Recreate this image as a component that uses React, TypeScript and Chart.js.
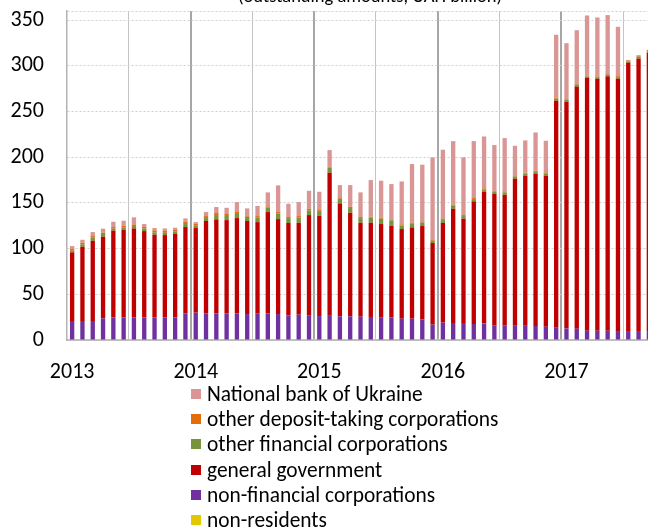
import { useEffect, useRef } from 'react';
import { Chart, registerables } from 'chart.js';

Chart.register(...registerables);

const FONT = 'Carlito, Lato, "Open Sans", sans-serif';

const years = ['2013', '2014', '2015', '2016', '2017'];
const monthsShown = 57; // Jan 2013 .. Sep 2017
const categories: string[] = [];
for (const y of years) {
  for (let m = 1; m <= 12; m++) {
    if (categories.length < monthsShown) categories.push(`${y}-${m < 10 ? '0' + m : m}`);
  }
}

const yTicks = [0, 50, 100, 150, 200, 250, 300, 350];

const nonResidents = [
  0, 0, 0, 0, 0, 0, 0, 0, 0, 0, 0, 0,
  0, 0, 0, 0, 0, 0, 0, 0, 0, 0, 0, 0,
  0, 0, 0, 0, 0, 0, 0, 0, 0, 0, 0, 0,
  0, 0, 0, 0, 0, 0, 0, 0, 0, 0, 0, 0,
  0, 0, 0, 0, 0, 0, 0, 0, 0,
];
const nonFinancialCorps = [
  20.8, 20.8, 20.8, 23.7, 24.8, 24.8, 24.8, 24.8, 24.8, 24.8, 24.8, 29.2,
  29.9, 29.2, 29.2, 29.2, 29.2, 28.4, 28.8, 29.2, 28.4, 27, 27.7, 26.6,
  26.2, 27.3, 25.9, 25.9, 25.5, 25.2, 24.4, 24.8, 23.3, 23.3, 22.6, 16.8,
  19, 18.6, 18.6, 17.5, 18.2, 16, 16, 15.7, 15.7, 15.3, 14.6, 13.5,
  12.8, 12.4, 10.2, 10.2, 10.2, 9.8, 9.8, 9.8, 9.8,
];
const generalGovernment = [
  75.1, 81.2, 87.8, 89.3, 94.8, 95.9, 97.3, 94.4, 90.4, 90, 91.5, 94.4,
  92.6, 101, 102.8, 102, 104.2, 101.8, 100.2, 110.8, 103.9, 101, 100.6, 110.1,
  109.8, 155.7, 123.6, 113.4, 102.8, 103.1, 102.5, 100.2, 98.1, 99.9, 102.1, 89.3,
  109, 125, 114.1, 134.2, 144, 144, 143, 160.7, 164, 166.6, 165.1, 248.3,
  247.9, 264.6, 276.7, 275.6, 278.5, 276, 293.5, 297.9, 304.5,
];
const otherFinancialCorps = [
  1.8, 2.6, 3.7, 3, 2.2, 2.2, 2.6, 2.6, 2.6, 2.5, 2.5, 3.3,
  2.5, 3.2, 4.7, 5.5, 5.5, 4.7, 5.2, 5.1, 5.9, 5.4, 5.9, 5.1,
  5, 5.8, 5.1, 5.1, 5.1, 5.5, 5.8, 5.9, 4, 4, 4, 2.5,
  3.2, 3.3, 2.9, 2.5, 2.6, 2.6, 2.5, 2.6, 2.6, 2.2, 2.6, 2.2,
  2.2, 2.6, 1.5, 1.8, 1.9, 1.8, 1.5, 2.2, 1.4,
];
const otherDepositTaking = [
  2.2, 1.9, 1.4, 1.5, 1.8, 2.1, 1.8, 1.8, 2.2, 2.2, 1.9, 2.5,
  2.2, 2.2, 2.2, 1.8, 1.8, 1.4, 1.4, 1.1, 1.8, 1.1, 1.4, 1.8,
  1.2, 0.8, 1.5, 1.4, 1.1, 1.1, 1.1, 1.1, 1.1, 1.1, 1.1, 1.5,
  1.1, 1.1, 1.1, 1.1, 1.1, 0.7, 1.1, 1.1, 0.7, 1.1, 1.1, 1.1,
  0.7, 1.1, 0.7, 0.7, 1.1, 1.1, 1.1, 0.7, 1.5,
];
const nationalBank = [
  2.9, 3.2, 4.4, 4.3, 5.8, 5.5, 7.7, 3.3, 2.5, 2.6, 2.2, 3.6,
  1.8, 4.4, 6.6, 6.2, 10.2, 7.7, 11, 15.3, 29.2, 14.6, 15.3, 19.7,
  20, 18.2, 13.4, 23.7, 27, 40.1, 40.5, 38.6, 47, 64.2, 62, 89.7,
  75.9, 69.6, 63.1, 62.3, 56.8, 50, 58.3, 32.4, 35.4, 41.9, 34.6, 68.9,
  61.2, 58.3, 66, 64.6, 63.8, 54, 0.6, 1.1, 0.3,
];

const seriesNames = [
  'non-residents',
  'non-financial corporations',
  'general government',
  'other financial corporations',
  'other deposit-taking corporations',
  'National bank of Ukraine',
];
const seriesColors = ['#E3C800', '#7030A0', '#C00000', '#77933C', '#E46C0A', '#D99694'];
const seriesData = [
  nonResidents,
  nonFinancialCorps,
  generalGovernment,
  otherFinancialCorps,
  otherDepositTaking,
  nationalBank,
];

const titleText = '(outstanding amounts, UAH billion)';

export default function App() {
  const ref = useRef<HTMLCanvasElement>(null);

  useEffect(() => {
    if (!ref.current) return;
    const chart = new Chart(ref.current, {
      type: 'bar',
      data: {
        labels: categories,
        datasets: seriesData.map((d, i) => ({
          label: seriesNames[i],
          data: d,
          backgroundColor: seriesColors[i],
          borderWidth: 0,
          barPercentage: 0.42,
          categoryPercentage: 1,
        })),
      },
      options: {
        animation: false,
        responsive: false,
        maintainAspectRatio: false,
        layout: { padding: { left: 9, top: 11, right: 8, bottom: 5 } },
        plugins: {
          legend: { display: false },
          title: { display: false },
          tooltip: { enabled: false },
        },
        scales: {
          x: {
            stacked: true,
            offset: true,
            grid: {
              offset: true,
              drawTicks: false,
              color: (ctx: any) => {
                const i = ctx.index;
                if (typeof i !== 'number' || i === 0) return 'rgba(0,0,0,0)';
                if (i % 12 === 0) return '#a6a6a6';
                if (i % 6 === 0) return '#c4c4c4';
                return 'rgba(0,0,0,0)';
              },
              lineWidth: (ctx: any) => {
                const i = ctx.index;
                if (typeof i === 'number' && i % 12 === 0) return 2;
                return 1;
              },
            },
            border: { display: true, color: '#bfbfbf', width: 2 },
            ticks: {
              autoSkip: false,
              maxRotation: 0,
              minRotation: 0,
              padding: 19,
              color: '#000',
              font: { family: FONT, size: 22 },
              callback: (_v: any, i: number) => {
                const c = categories[i];
                return c && c.endsWith('-01') ? c.slice(0, 4) : '';
              },
            },
            afterFit: (s: any) => {
              s.height = 45;
              s.paddingLeft = 0;
              s.paddingRight = 0;
            },
          },
          y: {
            stacked: true,
            min: 0,
            max: 360,
            afterBuildTicks: (s: any) => {
              s.ticks = [...yTicks, 360].map((v) => ({ value: v }));
            },
            grid: { color: '#cfcfcf', drawTicks: false, lineWidth: 1 },
            border: { display: true, color: '#b3b3b3', width: 1.5, dash: [2, 2] },
            ticks: {
              padding: 23,
              color: '#000',
              font: { family: FONT, size: 22, lineHeight: 1 },
              callback: (v: any) => (yTicks.includes(Number(v)) ? String(v) : ''),
            },
            afterFit: (s: any) => {
              s.width = 58;
              s.paddingTop = 0;
              s.paddingBottom = 0;
            },
          },
        },
      },
    });
    return () => chart.destroy();
  }, []);

  return (
    <div
      style={{
        position: 'fixed',
        left: 0,
        top: 0,
        width: 648,
        height: 532,
        overflow: 'hidden',
        background: '#fff',
        fontFamily: FONT,
      }}
    >
      <canvas
        ref={ref}
        width={662}
        height={390}
        style={{ position: 'absolute', left: 0, top: 0, width: 662, height: 390 }}
      />
      <div
        style={{
          position: 'absolute',
          left: 0,
          width: 740,
          top: -13,
          textAlign: 'center',
          fontSize: 18.5,
          lineHeight: 1,
          color: '#000',
          whiteSpace: 'nowrap',
        }}
      >
        {titleText}
      </div>
      <div style={{ position: 'absolute', left: 191, top: 381.4 }}>
        {seriesNames
          .map((n, i) => ({ n, c: seriesColors[i] }))
          .reverse()
          .map(({ n, c }) => (
            <div
              key={n}
              style={{
                display: 'flex',
                alignItems: 'center',
                height: 25.2,
                fontSize: 21.4,
                color: '#000',
                whiteSpace: 'nowrap',
              }}
            >
              <span
                style={{ display: 'inline-block', width: 10, height: 10, background: c, marginRight: 6 }}
              />
              <span>{n}</span>
            </div>
          ))}
      </div>
    </div>
  );
}
